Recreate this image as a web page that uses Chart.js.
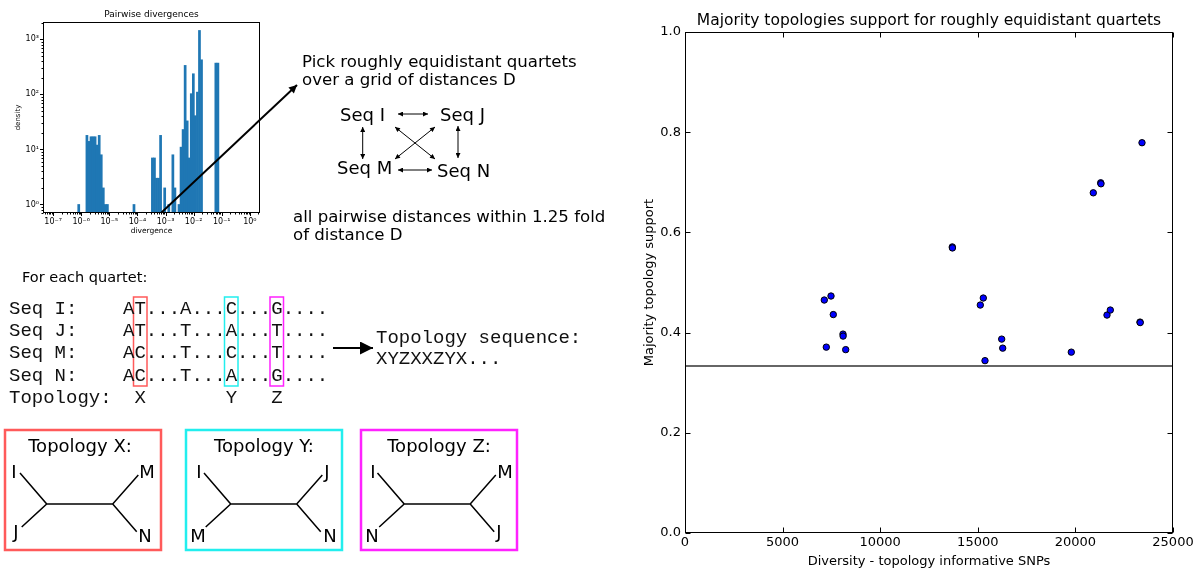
<!DOCTYPE html>
<html>
<head>
<meta charset="utf-8">
<script src="https://cdn.jsdelivr.net/npm/chart.js@4/dist/chart.umd.min.js"></script>
<style>
  html, body { margin: 0; padding: 0; background: #fff; }
  #page { position: relative; width: 1196px; height: 569px; overflow: hidden; }
  canvas { position: absolute; }
  #hist { left: 0; top: 0; }
  #scatter { left: 630px; top: 0; }
  #diagram { position: absolute; left: 0; top: 0; }
  #diagram text { font-family: "DejaVu Sans"; fill: #000; }
  #diagram .mono { font-family: "Liberation Mono"; font-size: 19px; white-space: pre; fill: #111; }
</style>
</head>
<body>
<div id="page">
  <canvas id="hist" width="280" height="240"></canvas>
  <canvas id="scatter" width="566" height="569"></canvas>
  <svg id="diagram" width="630" height="569" xmlns="http://www.w3.org/2000/svg">
    <defs>
      <marker id="tip" viewBox="0 0 10 10" refX="10" refY="5" markerWidth="6" markerHeight="5"
              markerUnits="userSpaceOnUse" orient="auto-start-reverse">
        <path d="M0,0 L10,5 L0,10 z" fill="#000"/>
      </marker>
      <marker id="tipLong" viewBox="0 0 10 10" refX="10" refY="5" markerWidth="11" markerHeight="8"
              markerUnits="userSpaceOnUse" orient="auto">
        <path d="M0,0 L10,5 L0,10 z" fill="#000"/>
      </marker>
      <marker id="tipBig" viewBox="0 0 10 10" refX="10" refY="5" markerWidth="18" markerHeight="13"
              markerUnits="userSpaceOnUse" orient="auto">
        <path d="M0,0 L10,5 L0,10 z" fill="#000"/>
      </marker>
    </defs>

    <!-- pointer from the divergence histogram to the quartet picking step -->
    <line x1="161.5" y1="212.5" x2="297" y2="85" stroke="#000" stroke-width="2" marker-end="url(#tipLong)"/>

    <!-- quartet selection -->
    <text x="302" y="67" font-size="16.6">Pick roughly equidistant quartets</text>
    <text x="302" y="85" font-size="16.6">over a grid of distances D</text>
    <text x="340" y="120.5" font-size="18">Seq I</text>
    <text x="440" y="120.5" font-size="18">Seq J</text>
    <text x="337" y="174" font-size="18">Seq M</text>
    <text x="437" y="177" font-size="18">Seq N</text>
    <g stroke="#000" stroke-width="1">
      <line x1="398" y1="114" x2="428" y2="114" marker-start="url(#tip)" marker-end="url(#tip)"/>
      <line x1="362.7" y1="127" x2="362.7" y2="159" marker-start="url(#tip)" marker-end="url(#tip)"/>
      <line x1="458" y1="126" x2="458" y2="158" marker-start="url(#tip)" marker-end="url(#tip)"/>
      <line x1="395" y1="127" x2="435" y2="159" marker-start="url(#tip)" marker-end="url(#tip)"/>
      <line x1="435" y1="127" x2="395" y2="159" marker-start="url(#tip)" marker-end="url(#tip)"/>
      <line x1="398" y1="170" x2="432" y2="170" marker-start="url(#tip)" marker-end="url(#tip)"/>
    </g>
    <text x="293" y="222" font-size="16.6">all pairwise distances within 1.25 fold</text>
    <text x="293" y="240" font-size="16.6">of distance D</text>

    <!-- per-site topology calls -->
    <text x="22" y="282" font-size="14.5">For each quartet:</text>
    <rect x="133.5" y="297" width="13.5" height="89" fill="none" stroke="#ff5a5a" stroke-width="1.5"/>
    <rect x="224.5" y="297" width="13.5" height="89" fill="none" stroke="#22eeee" stroke-width="1.5"/>
    <rect x="270" y="297" width="13.5" height="89" fill="none" stroke="#ff22ff" stroke-width="1.5"/>
    <text class="mono" x="9" y="314">Seq I:    AT...A...C...G....</text>
    <text class="mono" x="9" y="336">Seq J:    AT...T...A...T....</text>
    <text class="mono" x="9" y="358">Seq M:    AC...T...C...T....</text>
    <text class="mono" x="9" y="381">Seq N:    AC...T...A...G....</text>
    <text class="mono" x="9" y="403">Topology:  X       Y   Z</text>
    <line x1="333" y1="348" x2="373" y2="348" stroke="#000" stroke-width="2" marker-end="url(#tipBig)"/>
    <text class="mono" x="376" y="343">Topology sequence:</text>
    <text class="mono" x="376" y="364">XYZXXZYX...</text>

    <!-- the three unrooted quartet topologies -->
    <g fill="none" stroke-width="2.5">
      <rect x="5" y="430" width="156" height="120" stroke="#ff5a5a"/>
      <rect x="186" y="430" width="156" height="120" stroke="#22eeee"/>
      <rect x="361" y="430" width="156" height="120" stroke="#ff22ff"/>
    </g>
    <g id="trees" stroke="#000" stroke-width="1.5" fill="none">
      <path d="M46.7,504 H112.7 M20,473 L46.7,504 L21.7,527 M138.3,475 L112.7,504 L136.7,531.7"/>
      <path transform="translate(184,0)" d="M46.7,504 H112.7 M20,473 L46.7,504 L21.7,527 M138.3,475 L112.7,504 L136.7,531.7"/>
      <path transform="translate(357.5,0)" d="M46.7,504 H112.7 M20,473 L46.7,504 L21.7,527 M138.3,475 L112.7,504 L136.7,531.7"/>
    </g>
    <g font-size="18" text-anchor="middle">
      <text x="80" y="452">Topology X:</text>
      <text x="14" y="478">I</text>
      <text x="16" y="538">J</text>
      <text x="147" y="478">M</text>
      <text x="145" y="541.5">N</text>

      <text x="264" y="452">Topology Y:</text>
      <text x="199" y="478">I</text>
      <text x="198" y="541.5">M</text>
      <text x="327" y="478">J</text>
      <text x="330" y="541.5">N</text>

      <text x="439" y="452">Topology Z:</text>
      <text x="373" y="478">I</text>
      <text x="372" y="541.5">N</text>
      <text x="505" y="478">M</text>
      <text x="499" y="538">J</text>
    </g>
  </svg>
</div>
<script>
// Pairwise divergences: log-spaced bins (log10 of divergence) and density per bin
const histLog10Start = -6.125;
const histLog10Width = 0.0728;
const histDensity = [
  1, 0, 0, 0, 18, 14, 17, 17, 17, 12,
  18, 8, 2, 1, 1, 0, 0, 0, 0, 0,
  0, 0, 0, 0, 0, 0, 0, 1, 0, 0,
  0, 0, 0, 0, 0, 0, 7, 7, 3, 3,
  18, 0, 2, 0, 1, 0, 8, 2, 0, 1,
  11, 23, 336, 33, 7, 103, 237, 41, 110, 1450,
  425, 0, 0, 0, 0, 0, 0, 370, 370
];
const histDecades = [-7, -6, -5, -4, -3, -2, -1, 0];
const densityDecades = [1, 10, 100, 1000];

// Majority-topology support of equidistant quartets vs. number of informative SNPs
const informativeSnps = [
  7136, 7480, 7597, 8094, 8100, 7239, 8233,
  13694, 13700, 15282, 15128, 16224, 16276, 15369,
  19790, 21619, 21788, 23309, 23320, 20917, 21296, 21310, 23412
];
const majoritySupport = [
  0.465, 0.473, 0.436, 0.397, 0.393, 0.371, 0.366,
  0.571, 0.569, 0.469, 0.455, 0.387, 0.369, 0.344,
  0.361, 0.435, 0.445, 0.421, 0.420, 0.679, 0.699, 0.697, 0.779
];
const chanceLevel = 1 / 3;
const snpTicks = [0, 5000, 10000, 15000, 20000, 25000];
const supportTicks = [0, 0.2, 0.4, 0.6, 0.8, 1.0];

const SUP = { '-': '\u207B', '0': '\u2070', '1': '\u00B9', '2': '\u00B2', '3': '\u00B3',
  '4': '\u2074', '5': '\u2075', '6': '\u2076', '7': '\u2077', '8': '\u2078', '9': '\u2079' };
const powerLabel = (exp) => '10' + String(exp).split('').map(c => SUP[c]).join('');

// frame around the plot area plus tick marks (inward or outward)
const frameTicks = {
  id: 'frameTicks',
  afterDraw(chart, args, o) {
    const { ctx, chartArea: a } = chart;
    const L = Math.round(a.left) + 0.5, R = Math.round(a.right) - 0.5;
    const T = Math.round(a.top) + 0.5, B = Math.round(a.bottom) - 0.5;
    ctx.save();
    ctx.strokeStyle = '#000';
    ctx.lineWidth = 1;
    ctx.strokeRect(L, T, R - L, B - T);
    const xs = chart.scales.x, ys = chart.scales.y;
    const seg = (x1, y1, x2, y2) => { ctx.beginPath(); ctx.moveTo(x1, y1); ctx.lineTo(x2, y2); ctx.stroke(); };
    const dir = o.inward ? 1 : -1;
    const xt = (v, len) => {
      const px = Math.round(xs.getPixelForValue(v)) + 0.5;
      seg(px, B, px, B - dir * len);
      if (o.mirror) seg(px, T, px, T + dir * len);
    };
    const yt = (v, len) => {
      const py = Math.round(ys.getPixelForValue(v)) + 0.5;
      seg(L, py, L + dir * len, py);
      if (o.mirror) seg(R, py, R - dir * len, py);
    };
    xs.ticks.forEach(t => xt(t.value, o.major));
    ys.ticks.forEach(t => yt(t.value, o.major));
    if (o.minorX) o.minorX.forEach(v => { if (v > xs.min && v < xs.max) xt(v, o.minor); });
    if (o.minorY) o.minorY.forEach(v => { if (v > ys.min && v < ys.max) yt(v, o.minor); });
    ctx.restore();
  }
};

Chart.defaults.font.family = 'DejaVu Sans';
Chart.defaults.color = '#000';

// minor log ticks (2..9 x 10^n)
const minorLogX = [], minorLogY = [];
for (let n = -8; n <= 0; n++) for (let k = 2; k <= 9; k++) minorLogX.push(n + Math.log10(k));
for (let n = -1; n <= 3; n++) for (let k = 2; k <= 9; k++) minorLogY.push(k * Math.pow(10, n));

const histPoints = histDensity.map((d, i) => ({
  x: histLog10Start + (i + 0.5) * histLog10Width,
  y: d > 0 ? d : null
}));

new Chart(document.getElementById('hist'), {
  type: 'bar',
  data: { datasets: [{ data: histPoints, backgroundColor: '#1f77b4', borderWidth: 0,
    barPercentage: 1, categoryPercentage: 1 }] },
  options: {
    responsive: false, animation: false, devicePixelRatio: 1,
    layout: { padding: { left: 0, right: 20, top: 0, bottom: 0 } },
    plugins: {
      legend: { display: false }, tooltip: { enabled: false },
      title: { display: true, text: 'Pairwise divergences', fullSize: false,
        font: { size: 9, weight: 'normal', lineHeight: 1.2 }, padding: { top: 8.9, bottom: 2.3 } },
      frameTicks: { inward: false, mirror: false, major: 3.5, minor: 2, minorX: minorLogX, minorY: minorLogY }
    },
    scales: {
      x: {
        type: 'linear', min: -7.36, max: 0.36, bounds: 'data', offset: false,
        grid: { display: false, drawTicks: false }, border: { display: false },
        afterBuildTicks: s => { s.ticks = histDecades.map(v => ({ value: v })); },
        ticks: { callback: v => powerLabel(v), font: { size: 8 }, padding: 4, maxRotation: 0, autoSkip: false },
        title: { display: true, text: 'divergence', font: { size: 7.5 }, padding: { top: 0, bottom: 4.5 } },
        afterFit: s => { s.height = 27; s.paddingLeft = 0; s.paddingRight = 0; }
      },
      y: {
        type: 'logarithmic', min: 0.7, max: 2065,
        grid: { display: false, drawTicks: false }, border: { display: false },
        afterBuildTicks: s => { s.ticks = densityDecades.map(v => ({ value: v })); },
        ticks: { callback: v => powerLabel(Math.round(Math.log10(v))), font: { size: 8 }, padding: 4, autoSkip: false },
        title: { display: true, text: 'density', font: { size: 7 }, padding: { top: 14, bottom: 0 } },
        afterFit: s => { s.width = 43; s.paddingTop = 0; s.paddingBottom = 0; }
      }
    }
  },
  plugins: [frameTicks]
});

const supportPoints = informativeSnps.map((x, i) => ({ x, y: majoritySupport[i] }));

new Chart(document.getElementById('scatter'), {
  type: 'scatter',
  data: {
    datasets: [
      { type: 'line', data: [{ x: snpTicks[0], y: chanceLevel }, { x: snpTicks[snpTicks.length - 1], y: chanceLevel }],
        borderColor: '#333', borderWidth: 1.3, pointRadius: 0, fill: false, order: 2 },
      { data: supportPoints, backgroundColor: '#0000ff', borderColor: '#000', borderWidth: 1,
        pointRadius: 3.2, order: 1 }
    ]
  },
  options: {
    responsive: false, animation: false, devicePixelRatio: 1,
    layout: { padding: { left: 0, right: 23, top: 0, bottom: 0 } },
    plugins: {
      legend: { display: false }, tooltip: { enabled: false },
      title: { display: true, text: 'Majority topologies support for roughly equidistant quartets', fullSize: false,
        font: { size: 15.5, weight: 'normal', lineHeight: 1.2 }, padding: { top: 11.5, bottom: 1.9 } },
      frameTicks: { inward: true, mirror: true, major: 5 }
    },
    scales: {
      x: {
        type: 'linear', min: 0, max: 25000, bounds: 'data',
        grid: { display: false, drawTicks: false }, border: { display: false },
        afterBuildTicks: s => { s.ticks = snpTicks.map(v => ({ value: v })); },
        ticks: { callback: v => String(v), font: { size: 13 }, padding: 2, maxRotation: 0, autoSkip: false },
        title: { display: true, text: 'Diversity - topology informative SNPs', font: { size: 13 }, padding: { top: 0, bottom: 0 } },
        afterFit: s => { s.height = 36; s.paddingLeft = 0; s.paddingRight = 0; }
      },
      y: {
        type: 'linear', min: 0, max: 1, bounds: 'data',
        grid: { display: false, drawTicks: false }, border: { display: false },
        afterBuildTicks: s => { s.ticks = supportTicks.map(v => ({ value: v })); },
        ticks: { callback: v => v.toFixed(1), font: { size: 13 }, padding: 4, autoSkip: false },
        title: { display: true, text: 'Majority topology support', font: { size: 13 }, padding: { top: 12, bottom: 0 } },
        afterFit: s => { s.width = 55; s.paddingTop = 0; s.paddingBottom = 0; }
      }
    }
  },
  plugins: [frameTicks]
});
</script>
</body>
</html>
